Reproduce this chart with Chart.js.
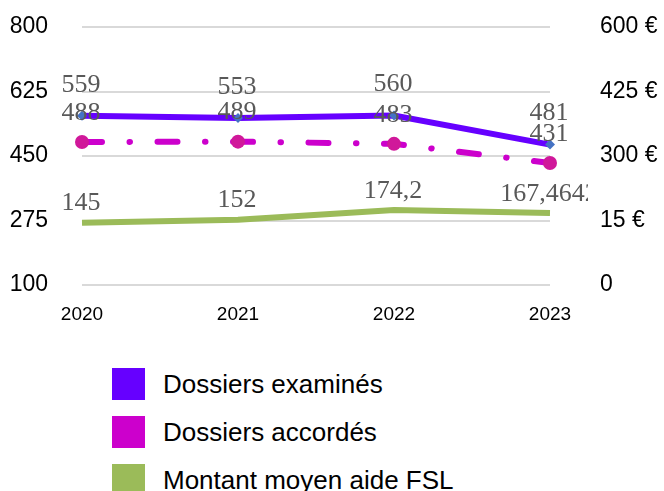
<!DOCTYPE html>
<html lang="fr">
<head>
<meta charset="utf-8">
<title>FSL – dossiers et montant moyen</title>
<script src="https://cdn.jsdelivr.net/npm/chart.js@4.4.1/dist/chart.umd.min.js"></script>
<style>
  html, body { margin: 0; padding: 0; background: #fff; }
  body { width: 664px; height: 491px; position: relative; overflow: hidden; font-family: "Liberation Sans", Arial, sans-serif; }
  #wrap { position: absolute; left: 0; top: 0; width: 664px; height: 326px; }
  .leg { position: absolute; left: 112px; height: 32px; display: flex; align-items: center; }
  .leg i { display: block; width: 33px; height: 32px; margin-right: 18px; }
  .leg span { font-size: 26px; color: #000; white-space: nowrap; line-height: 32px; }
</style>
</head>
<body>
<div id="wrap"><canvas id="c"></canvas></div>
<div id="legend"></div>
<script>
// Années et séries
const years = ["2020", "2021", "2022", "2023"];
const dossiersExamines = [559, 553, 560, 481];
const dossiersAccordes = [488, 489, 483, 431];
const montantMoyen = [145, 152, 174.2, 167.4642];

// Graduations
const leftTicks = [100, 275, 450, 625, 800];
const rightTicks = [0, 150, 300, 450, 600];
const rightTickLabels = ["0", "15 €", "300 €", "425 €", "600 €"];

const COLORS = {
  examines: "#6600FF",
  accordes: "#CC00CC",
  montant: "#9BBB59"
};

// Étiquettes de valeur au-dessus des points
const valueLabels = {
  id: "valueLabels",
  afterDatasetsDraw(chart) {
    const ctx = chart.ctx;
    ctx.save();
    ctx.beginPath();
    ctx.rect(0, 0, 588, chart.height);
    ctx.clip();
    ctx.font = '26px "Liberation Serif", "Times New Roman", serif';
    ctx.fillStyle = "#595959";
    ctx.textAlign = "center";
    ctx.textBaseline = "middle";
    chart.data.datasets.forEach((ds, i) => {
      const meta = chart.getDatasetMeta(i);
      meta.data.forEach((pt, j) => {
        const txt = String(ds.data[j]).replace(".", ",");
        ctx.fillText(txt, pt.x - 1, pt.y - ds.labelOffset);
      });
    });
    ctx.restore();
  }
};

// Largeur fixe des axes verticaux, marge limitée à la demi-hauteur des libellés
function fixVertical(width) {
  return scale => {
    scale.width = width;
    scale.paddingTop = 14;
    scale.paddingBottom = 14;
  };
}

new Chart(document.getElementById("c"), {
  type: "line",
  data: {
    labels: years,
    datasets: [
      {
        label: "Dossiers accordés",
        data: dossiersAccordes,
        yAxisID: "y",
        borderColor: COLORS.accordes,
        borderWidth: 6,
        borderDash: [20, 27.5, 0.5, 27.5],
        borderCapStyle: "round",
        pointStyle: "circle",
        pointRadius: 7,
        pointBackgroundColor: "#D0189A",
        pointBorderWidth: 0,
        tension: 0,
        labelOffset: 29
      },
      {
        label: "Dossiers examinés",
        data: dossiersExamines,
        yAxisID: "y",
        borderColor: COLORS.examines,
        borderWidth: 6,
        pointStyle: "rectRot",
        pointRadius: 5,
        pointBackgroundColor: "#4472C4",
        pointBorderWidth: 0,
        tension: 0,
        labelOffset: 31
      },
      {
        label: "Montant moyen aide FSL",
        data: montantMoyen,
        yAxisID: "y1",
        borderColor: COLORS.montant,
        borderWidth: 6,
        pointRadius: 0,
        tension: 0,
        labelOffset: 19
      }
    ]
  },
  options: {
    responsive: true,
    maintainAspectRatio: false,
    animation: false,
    events: [],
    layout: { padding: { top: 27, left: 0, right: 0, bottom: 0 } },
    plugins: {
      legend: { display: false },
      tooltip: { enabled: false }
    },
    scales: {
      x: {
        offset: false,
        grid: { display: false, drawTicks: false },
        border: { display: false },
        afterFit(scale) { scale.height = 41; },
        ticks: {
          color: "#000",
          font: { family: '"Liberation Sans", Arial, sans-serif', size: 19 },
          padding: 18,
          maxRotation: 0
        }
      },
      y: {
        position: "left",
        min: leftTicks[0],
        max: leftTicks[leftTicks.length - 1],
        afterBuildTicks(scale) { scale.ticks = leftTicks.map(v => ({ value: v })); },
        afterFit: fixVertical(82),
        grid: { color: "#D9D9D9", lineWidth: 2, drawTicks: false },
        border: { display: false },
        ticks: {
          color: "#000",
          font: { family: '"Liberation Sans", Arial, sans-serif', size: 23 },
          padding: 34
        }
      },
      y1: {
        position: "right",
        min: rightTicks[0],
        max: rightTicks[rightTicks.length - 1],
        afterBuildTicks(scale) { scale.ticks = rightTicks.map(v => ({ value: v })); },
        afterFit: fixVertical(114),
        grid: { display: false, drawTicks: false },
        border: { display: false },
        ticks: {
          color: "#000",
          font: { family: '"Liberation Sans", Arial, sans-serif', size: 23 },
          padding: 50,
          callback: (v, i) => rightTickLabels[i]
        }
      }
    }
  },
  plugins: [valueLabels]
});

// Légende
const legendItems = [
  ["Dossiers examinés", COLORS.examines],
  ["Dossiers accordés", COLORS.accordes],
  ["Montant moyen aide FSL", COLORS.montant]
];
const legend = document.getElementById("legend");
legendItems.forEach(([name, color], i) => {
  const row = document.createElement("div");
  row.className = "leg";
  row.style.top = (368 + i * 48) + "px";
  const sw = document.createElement("i");
  sw.style.background = color;
  const tx = document.createElement("span");
  tx.textContent = name;
  row.appendChild(sw);
  row.appendChild(tx);
  legend.appendChild(row);
});
</script>
</body>
</html>
